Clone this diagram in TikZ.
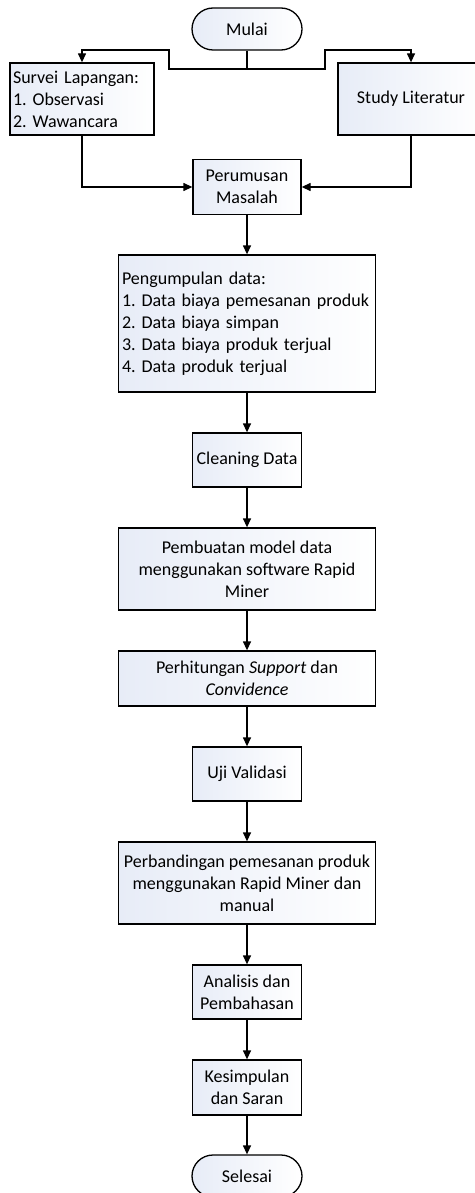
\documentclass[tikz,border=0pt]{standalone}
\usepackage{fontspec}
\setmainfont{Carlito}
\usetikzlibrary{arrows.meta,positioning}
\definecolor{boxblue}{RGB}{231,236,247}
\newcommand\boxfont{\fontsize{18}{22}\selectfont\frenchspacing\hyphenpenalty=10000\relax}

\begin{document}
\begin{tikzpicture}[x=1pt, y=-1pt, >={Triangle[length=9pt,width=8pt]}, line width=1.3pt,
   box/.style={rectangle, draw, left color=boxblue, right color=white, align=center,
      font=\boxfont, inner sep=3pt},
   term/.style={box, rounded corners=21pt, minimum width=110pt, minimum height=42pt},
   small/.style={box, minimum width=109pt, minimum height=54pt},
   wide/.style={box, minimum width=257pt},
   list/.style={box, align=left, inner sep=3.5pt}]
   \useasboundingbox (0,0) rectangle (474,1193);
   \node (mulai) at (247,29) [term] {Mulai};
   \coordinate (split) at (247,69);
   \coordinate (kiri) at (169,50);
   \coordinate (kanan) at (325,50);
   \node (survei) at (82,99) [list, inner sep=3pt, text width=138pt, minimum height=72pt]
      {Survei Lapangan:\\1. Observasi\\2. Wawancara};
   \node (study) at (411,99) [box, minimum width=146pt, minimum height=72pt] {Study Literatur};
   \node (perumusan) at (247,187) [small, minimum width=108pt, minimum height=55pt] {Perumusan\\Masalah};
   \node (pengumpulan) at (247,323.5) [list, text width=250pt, minimum height=137pt]
      {Pengumpulan data:\\1. Data biaya pemesanan produk\\2. Data biaya simpan\\3. Data biaya produk terjual\\4. Data produk terjual};
   \node (cleaning) at (247,460) [small] {Cleaning Data};
   \node (pembuatan) at (247,569) [wide, minimum height=82pt]
      {Pembuatan model data\\menggunakan software Rapid\\Miner};
   \node (perhitungan) at (247,678.5) [wide, minimum height=55pt]
      {Perhitungan \textit{Support} dan\\\textit{Convidence}};
   \node (uji) at (247,774) [small] {Uji Validasi};
   \node (perbandingan) at (247,883) [wide, minimum height=82pt]
      {Perbandingan pemesanan produk\\menggunakan Rapid Miner dan\\manual};
   \node (analisis) at (247,992) [small] {Analisis dan\\Pembahasan};
   \node (kesimpulan) at (247,1087.5) [small, minimum height=55pt] {Kesimpulan\\dan Saran};
   \node (selesai) at (247,1176) [term] {Selesai};
   \draw (mulai) -- (split);
   \draw (split)[->] -| (kiri) -| (survei);
   \draw (split)[->] -| (kanan) -| (study);
   \draw (survei)[->] |- (perumusan);
   \draw (study)[->] |- (perumusan);
   \foreach \a/\b in {perumusan/pengumpulan, pengumpulan/cleaning, cleaning/pembuatan,
      pembuatan/perhitungan, perhitungan/uji, uji/perbandingan, perbandingan/analisis,
      analisis/kesimpulan, kesimpulan/selesai}
      \draw (\a)[->] -- (\b);
\end{tikzpicture}
\end{document}
